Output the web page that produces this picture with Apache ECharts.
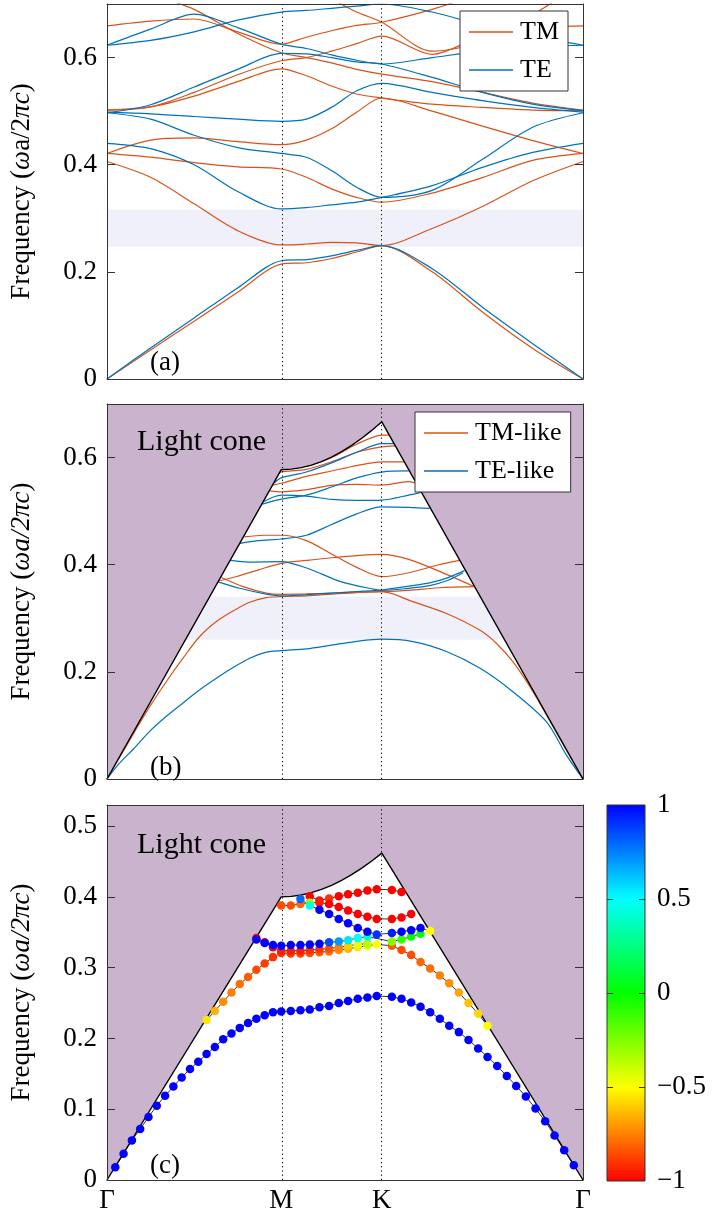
<!DOCTYPE html>
<html lang="en">
<head>
<meta charset="UTF-8">
<title>Band diagrams</title>
<script src="https://cdn.jsdelivr.net/npm/echarts@6/dist/echarts.min.js"></script>
<style>
  html, body { margin: 0; padding: 0; background: #fff; }
  #main { width: 716px; height: 1216px; }
</style>
</head>
<body>
<div id="main"></div>
<script>
// k path positions (units of 2pi/a) and their labels
var kTicks = [0, 0.5774, 0.9107, 1.5774];
var kLabels = ['Γ', 'M', 'K', 'Γ'];

// y tick labels per panel
var yTicksA = [0, 0.2, 0.4, 0.6];
var yTicksB = [0, 0.2, 0.4, 0.6];
var yTicksC = [0, 0.1, 0.2, 0.3, 0.4, 0.5];
var yMax = [0.7, 0.7, 0.53];

// band gaps (shaded)
var gapA = [0.247, 0.316];
var gapB = [0.260, 0.340];

// light cone (n = 1 for b, silica for c)
var coneK = [0, 0.5774, 0.6107, 0.6441, 0.6774, 0.7107, 0.7441, 0.7774, 0.8107, 0.8441, 0.8774, 0.9107, 1.5774];
var coneB = [0, 0.5774, 0.5784, 0.5813, 0.5860, 0.5926, 0.6010, 0.6111, 0.6228, 0.6360, 0.6507, 0.6667, 0];
var coneC = [0, 0.4001, 0.4008, 0.4028, 0.4061, 0.4107, 0.4165, 0.4235, 0.4316, 0.4408, 0.4509, 0.4620, 0];

// ---- panel (a): 2D crystal ----
var kA = [0, 0.1443, 0.2887, 0.433, 0.5774, 0.6607, 0.744, 0.8274, 0.9107, 1.0774, 1.2441, 1.4107, 1.5774];
var aTM = [
  [0, 0.054, 0.108, 0.162, 0.2145, 0.217, 0.225, 0.237, 0.249, 0.200, 0.125, 0.057, 0],
  [0.406, 0.3765, 0.327, 0.277, 0.2503, 0.252, 0.255, 0.254, 0.249, 0.281, 0.322, 0.370, 0.406],
  [0.421, 0.414, 0.404, 0.396, 0.392, 0.3765, 0.355, 0.339, 0.330, 0.347, 0.376, 0.408, 0.421],
  [0.421, 0.446, 0.450, 0.443, 0.4375, 0.446, 0.467, 0.498, 0.5245, 0.500, 0.472, 0.445, 0.421],
  [0.502, 0.508, 0.528, 0.555, 0.579, 0.566, 0.547, 0.532, 0.5245, 0.513, 0.507, 0.502, 0.501],
  [0.502, 0.508, 0.535, 0.568, 0.594, 0.600, 0.612, 0.626, 0.640, 0.606, 0.640, 0.655, 0.659],
  [0.659, 0.668, 0.672, 0.648, 0.625, 0.638, 0.650, 0.660, 0.666, 0.690, 0.720, 0.740, 0.750],
  [0.76, 0.72, 0.69, 0.645, 0.609, 0.600, 0.590, 0.578, 0.569, 0.555, 0.535, 0.515, 0.502],
  [null, null, null, null, 0.77, 0.74, 0.71, 0.685, 0.666, 0.612, 0.630, 0.680, 0.740]
];
var aTE = [
  [0, 0.058, 0.114, 0.170, 0.2207, 0.223, 0.230, 0.240, 0.249, 0.206, 0.134, 0.066, 0],
  [0.440, 0.430, 0.400, 0.350, 0.3175, 0.320, 0.325, 0.330, 0.339, 0.361, 0.395, 0.423, 0.440],
  [0.497, 0.485, 0.455, 0.432, 0.421, 0.414, 0.389, 0.358, 0.339, 0.352, 0.410, 0.470, 0.497],
  [0.498, 0.495, 0.490, 0.485, 0.481, 0.485, 0.507, 0.538, 0.552, 0.535, 0.5195, 0.507, 0.498],
  [0.497, 0.512, 0.545, 0.578, 0.608, 0.607, 0.600, 0.592, 0.588, 0.563, 0.535, 0.513, 0.501],
  [0.623, 0.653, 0.681, 0.656, 0.625, 0.617, 0.605, 0.595, 0.588, 0.600, 0.612, 0.620, 0.623],
  [0.623, 0.632, 0.648, 0.670, 0.685, 0.688, 0.692, 0.696, 0.700, 0.685, 0.660, 0.640, 0.623]
];

// ---- panel (b): slab, each band has its own k samples ----
var bTMk = [
  [0, 0.0862, 0.1415, 0.1968, 0.2519, 0.3072, 0.3625, 0.4175, 0.473, 0.528, 0.5774, 0.6607, 0.744, 0.8274, 0.9107, 1.014, 1.125, 1.235, 1.29, 1.345, 1.401, 1.456, 1.52, 1.5774],
  [0.379, 0.451, 0.528, 0.5774, 0.6607, 0.744, 0.8274, 0.9107, 1.0, 1.1, 1.218],
  [0.372, 0.43, 0.5, 0.5774, 0.6607, 0.744, 0.8274, 0.9107, 1.0, 1.1, 1.218],
  [0.455, 0.52, 0.5774, 0.6607, 0.744, 0.8274, 0.9107, 1.0, 1.1, 1.169],
  [0.54, 0.5774, 0.6607, 0.744, 0.8274, 0.9107, 1.0, 1.025],
  [0.57, 0.5774, 0.6607, 0.744, 0.8274, 0.9107, 0.955],
  [0.55, 0.5774, 0.6607, 0.744, 0.8274, 0.9107, 0.985],
  [0.6607, 0.744, 0.8274, 0.9107, 0.935]
];
var bTMf = [
  [0, 0.083, 0.135, 0.182, 0.2255, 0.266, 0.294, 0.3137, 0.33, 0.3385, 0.3404, 0.342, 0.345, 0.348, 0.3497, 0.331, 0.309, 0.278, 0.2535, 0.219, 0.1726, 0.12, 0.056, 0],
  [0.376, 0.359, 0.347, 0.3448, 0.3455, 0.347, 0.349, 0.3497, 0.352, 0.357, 0.359],
  [0.37, 0.378, 0.39, 0.4026, 0.408, 0.413, 0.417, 0.4194, 0.41, 0.388, 0.359],
  [0.452, 0.455, 0.455, 0.445, 0.42, 0.395, 0.3777, 0.385, 0.40, 0.408],
  [0.538, 0.536, 0.54, 0.548, 0.55, 0.5486, 0.555, 0.552],
  [0.57, 0.5734, 0.578, 0.592, 0.61, 0.620, 0.622],
  [0.549, 0.552, 0.565, 0.575, 0.585, 0.592, 0.592],
  [0.583, 0.60, 0.625, 0.6418, 0.642]
];
var bTEk = [
  [0, 0.0421, 0.0862, 0.1415, 0.1968, 0.2519, 0.3072, 0.3625, 0.4175, 0.473, 0.528, 0.5774, 0.6607, 0.744, 0.8274, 0.9107, 1.014, 1.125, 1.235, 1.345, 1.456, 1.522, 1.5774],
  [0.368, 0.44, 0.528, 0.5774, 0.6607, 0.744, 0.8274, 0.9107, 1.0, 1.069, 1.13, 1.185],
  [0.41, 0.47, 0.5774, 0.666, 0.777, 0.887, 0.9107, 1.0, 1.069, 1.13, 1.18],
  [0.44, 0.5, 0.5774, 0.6607, 0.744, 0.8274, 0.9107, 1.0, 1.069],
  [0.52, 0.5774, 0.6607, 0.744, 0.8274, 0.9107, 1.0, 1.04],
  [0.515, 0.5774, 0.6607, 0.744, 0.8274, 0.9107, 1.0],
  [0.555, 0.5774, 0.6607, 0.744, 0.8274, 0.9107, 0.95]
];
var bTEf = [
  [0, 0.03, 0.055, 0.089, 0.117, 0.142, 0.1665, 0.188, 0.208, 0.2255, 0.2367, 0.2397, 0.243, 0.25, 0.257, 0.261, 0.2565, 0.238, 0.207, 0.163, 0.107, 0.045, 0],
  [0.368, 0.356, 0.345, 0.3417, 0.344, 0.347, 0.35, 0.3528, 0.36, 0.366, 0.376, 0.389],
  [0.408, 0.405, 0.4057, 0.393, 0.368, 0.354, 0.352, 0.356, 0.361, 0.371, 0.385],
  [0.44, 0.445, 0.448, 0.455, 0.475, 0.495, 0.508, 0.507, 0.505],
  [0.518, 0.53, 0.528, 0.522, 0.52, 0.5206, 0.53, 0.535],
  [0.513, 0.5225, 0.53, 0.545, 0.562, 0.573, 0.575],
  [0.553, 0.562, 0.573, 0.59, 0.61, 0.626, 0.626]
];

// ---- panel (c): sampled modes, frequency + polarisation ----
var kC = [0.0275, 0.055, 0.0825, 0.11, 0.1375, 0.165, 0.1925, 0.22, 0.2475, 0.275, 0.3025, 0.33, 0.3575, 0.385, 0.4125, 0.44, 0.4675, 0.495, 0.5225, 0.55, 0.5774,
  0.609, 0.641, 0.672, 0.704, 0.736, 0.768, 0.799, 0.831, 0.863, 0.894,
  0.944, 0.976, 1.008, 1.039, 1.071, 1.103, 1.134, 1.166, 1.198, 1.23, 1.261, 1.293, 1.325, 1.356, 1.388, 1.42, 1.452, 1.483, 1.515, 1.547];
var cStart = [0, 11, 17, 17, 23, 20, 22];
var c1f = [0.018, 0.037, 0.056, 0.072, 0.089, 0.105, 0.119, 0.132, 0.145, 0.157, 0.167, 0.178, 0.188, 0.199, 0.207, 0.215, 0.222, 0.228, 0.233, 0.237, 0.238,
  0.239, 0.240, 0.241, 0.244, 0.246, 0.250, 0.253, 0.256, 0.258, 0.260,
  0.259, 0.256, 0.251, 0.245, 0.237, 0.228, 0.218, 0.209, 0.198, 0.186, 0.174, 0.161, 0.147, 0.133, 0.118, 0.101, 0.083, 0.063, 0.042, 0.021];
var c1p = [1, 1, 1, 1, 1, 1, 1, 1, 1, 1, 1, 1, 1, 1, 1, 1, 1, 1, 1, 1, 1,
  1, 1, 1, 1, 1, 1, 1, 1, 1, 1,
  1, 1, 1, 1, 1, 1, 1, 1, 1, 1, 1, 1, 1, 1, 1, 1, 1, 1, 1, 1];
var c2f = [0.226, 0.239, 0.252, 0.265, 0.277, 0.287, 0.297, 0.306, 0.315, 0.321,
  0.320, 0.320, 0.321, 0.322, 0.323, 0.325, 0.327, 0.329, 0.331, 0.333,
  0.331, 0.325, 0.318, 0.308, 0.299, 0.289, 0.278, 0.265, 0.250, 0.235, 0.218];
var c2p = [-0.55, -0.65, -0.72, -0.75, -0.78, -0.82, -0.85, -0.88, -0.9, -0.9,
  -0.9, -0.88, -0.85, -0.82, -0.78, -0.72, -0.65, -0.55, -0.45, -0.5,
  -0.82, -0.85, -0.85, -0.8, -0.78, -0.75, -0.72, -0.68, -0.62, -0.58, -0.5];
var c3f = [0.342, 0.336, 0.329, 0.324, 0.324, 0.324, 0.325, 0.326, 0.327, 0.329, 0.331, 0.333, 0.334];
var c3p = [-1, -1, -1, -0.95, -0.95, -0.95, -0.92, -0.9, -0.85, -0.75, -0.6, -0.45, -0.35];
var c4f = [0.340, 0.335, 0.332, 0.331, 0.332, 0.332, 0.333, 0.334, 0.336, 0.337, 0.339, 0.342, 0.344, null, 0.337, 0.340, 0.344, 0.348];
var c4p = [1, 1, 1, 1, 1, 1, 1, 1, 0.85, 0.7, 0.55, 0.48, 0.4, null, -0.25, -0.1, 0, 0.03];
var c5f = [0.401, 0.395, 0.398, 0.401, 0.404, 0.406, 0.409, 0.411, 0.410, 0.407];
var c5p = [-1, -0.97, -0.9, -1, -1, -1, -1, -1, -1, -1];
var c6f = [0.388, 0.388, 0.390, 0.392, 0.392, 0.390, 0.386, 0.381, 0.376, 0.372, 0.369, 0.369, 0.371, 0.376];
var c6p = [-0.85, -0.85, -0.8, -0.3, -0.95, -1, -1, -1, -1, -1, -1, -1, -1, -1];
var c7f = [0.397, 0.388, 0.382, 0.376, 0.369, 0.363, 0.356, 0.351, 0.347, 0.349, 0.351, 0.353, 0.356, 0.352];
var c7p = [0.8, 0.45, 1, 1, 1, 1, 1, 1, 0.9, 0.95, 1, 1, 1, -0.5];

// colour bar
var cbRange = [-1, 1];
var cbTicks = [-1, -0.5, 0, 0.5, 1];
var cbColors = ['#ff0000', '#ffff00', '#00ff00', '#00ffff', '#0000ff']; // from -1 to 1

var FONT = '"Liberation Serif", "DejaVu Serif", serif';
var TM = '#d95319', TE = '#0072bd';
var CONE = '#cab3cc';
var FRAME = '#333';

var grids = [
  {left: 107, top: 4, width: 476, height: 375},
  {left: 107, top: 404, width: 476, height: 375},
  {left: 107, top: 805, width: 476, height: 375},
  {left: 607, top: 805, width: 38, height: 376}
];

function pairs(ks, fs) {
  var d = [];
  for (var j = 0; j < ks.length; j++) d.push([ks[j], fs[j]]);
  return d;
}

function band(name, ks, fs, color, g, width, smooth, z) {
  return {
    type: 'line', name: name, xAxisIndex: g, yAxisIndex: 2 * g,
    data: pairs(ks, fs), symbol: 'none', smooth: smooth, connectNulls: true,
    lineStyle: {color: color, width: width}, itemStyle: {color: color},
    z: z, silent: true, animation: false
  };
}

var series = [];

// guides: band-gap shading and dotted M, K lines
function guides(g, gap) {
  if (gap) {
    series.push({
      type: 'line', xAxisIndex: g, yAxisIndex: 2 * g, data: [], symbol: 'none', z: 0, silent: true,
      markArea: {silent: true, itemStyle: {color: '#f0f0fb'}, data: [[{yAxis: gap[0]}, {yAxis: gap[1]}]]}
    });
  }
  series.push({
    type: 'line', xAxisIndex: g, yAxisIndex: 2 * g, data: [], symbol: 'none', z: 1, silent: true,
    markLine: {silent: true, symbol: 'none', label: {show: false},
      lineStyle: {color: '#000', width: 1, type: [1.2, 3]},
      data: [{xAxis: kTicks[1]}, {xAxis: kTicks[2]}]}
  });
}

guides(0, gapA);
guides(1, gapB);
guides(2, null);

// panel (a)
aTM.forEach(function (f) { series.push(band('TM', kA, f, TM, 0, 1.2, 0.3, 2)); });
aTE.forEach(function (f) { series.push(band('TE', kA, f, TE, 0, 1.2, 0.3, 2)); });

// panel (b)
bTMk.forEach(function (k, i) { series.push(band('TM-like', k, bTMf[i], TM, 1, 1.2, 0.3, 2)); });
bTEk.forEach(function (k, i) { series.push(band('TE-like', k, bTEf[i], TE, 1, 1.2, 0.3, 2)); });

// light cones
[[1, coneB], [2, coneC]].forEach(function (c) {
  series.push({
    type: 'line', xAxisIndex: c[0], yAxisIndex: 2 * c[0], data: pairs(coneK, c[1]),
    symbol: 'none', smooth: false, lineStyle: {color: '#000', width: 1.4},
    areaStyle: {origin: 'end', color: CONE, opacity: 1}, z: 3, silent: true
  });
});

// panel (c)
var cF = [c1f, c2f, c3f, c4f, c5f, c6f, c7f];
var cP = [c1p, c2p, c3p, c4p, c5p, c6p, c7p];
var dots = [];
cF.forEach(function (f, b) {
  var ks = kC.slice(cStart[b], cStart[b] + f.length);
  series.push(band('c' + b, ks, f, '#000', 2, 0.8, false, 4));
  for (var j = 0; j < f.length; j++) {
    if (f[j] !== null) dots.push([ks[j], f[j], cP[b][j]]);
  }
});
var dotIndex = series.length;
series.push({
  type: 'scatter', xAxisIndex: 2, yAxisIndex: 4, data: dots, symbol: 'circle',
  symbolSize: 8.5, z: 5, silent: true, itemStyle: {opacity: 1}
});

// colour bar
var barStops = cbColors.map(function (c, i) { return {offset: 1 - i / (cbColors.length - 1), color: c}; }).reverse();
series.push({
  type: 'custom', xAxisIndex: 3, yAxisIndex: 6, data: [[0, cbRange[0], cbRange[1]]], silent: true, z: 2,
  renderItem: function (params, api) {
    var p0 = api.coord([0, api.value(2)]);
    var p1 = api.coord([1, api.value(1)]);
    return {
      type: 'rect',
      shape: {x: p0[0], y: p0[1], width: p1[0] - p0[0], height: p1[1] - p0[1]},
      style: {fill: new echarts.graphic.LinearGradient(0, 0, 0, 1, barStops), stroke: FRAME, lineWidth: 1}
    };
  }
});

var labelStyle = {color: '#000', fontFamily: FONT, fontSize: 27};
var yName = '{t|Frequency (}{i|ωa/2πc}{t|)}';
var yNameA = '{t|Frequency (}{i|ω}{t|a/2}{i|πc}{t|)}';

function yAxes(g, max, ticks, name) {
  var tick = {show: true, inside: true, length: 8, customValues: ticks, lineStyle: {color: FRAME, width: 1}};
  var line = {show: true, onZero: false, lineStyle: {color: FRAME, width: 1}};
  return [
    {gridIndex: g, type: 'value', position: 'left', min: 0, max: max, z: 10,
      axisLine: line, axisTick: tick, splitLine: {show: false},
      axisLabel: Object.assign({customValues: ticks, margin: 10}, labelStyle),
      name: name, nameLocation: 'middle', nameRotate: 90, nameGap: 72,
      nameTextStyle: {rich: {t: {fontFamily: FONT, fontSize: 27, color: '#000'},
        i: {fontFamily: FONT, fontSize: 27, color: '#000', fontStyle: 'italic'}}}},
    {gridIndex: g, type: 'value', position: 'right', min: 0, max: max, z: 10,
      axisLine: line, axisTick: tick, splitLine: {show: false}, axisLabel: {show: false}}
  ];
}

var yAxis = [].concat(
  yAxes(0, yMax[0], yTicksA, yNameA),
  yAxes(1, yMax[1], yTicksB, yName),
  yAxes(2, yMax[2], yTicksC, yName),
  [
    {gridIndex: 3, type: 'value', position: 'left', min: cbRange[0], max: cbRange[1], z: 10,
      axisLine: {show: false}, splitLine: {show: false}, axisLabel: {show: false},
      axisTick: {show: true, inside: true, length: 6, customValues: cbTicks.slice(1, -1), lineStyle: {color: FRAME}}},
    {gridIndex: 3, type: 'value', position: 'right', min: cbRange[0], max: cbRange[1], z: 10,
      axisLine: {show: false}, splitLine: {show: false},
      axisTick: {show: true, inside: true, length: 6, customValues: cbTicks.slice(1, -1), lineStyle: {color: FRAME}},
      axisLabel: Object.assign({customValues: cbTicks, margin: 12,
        formatter: function (v) { return v < 0 ? '\u2212' + Math.abs(v) : String(v); }}, labelStyle)}
  ]
);

function kName(v) {
  var best = 0;
  for (var i = 1; i < kTicks.length; i++) {
    if (Math.abs(kTicks[i] - v) < Math.abs(kTicks[best] - v)) best = i;
  }
  return kLabels[best];
}

function xAxes() {
  var out = [];
  for (var g = 0; g < 3; g++) {
    out.push({gridIndex: g, type: 'value', position: 'bottom', min: kTicks[0], max: kTicks[3], z: 10,
      axisLine: {show: true, onZero: false, lineStyle: {color: FRAME, width: 1}},
      axisTick: {show: false}, splitLine: {show: false},
      axisLabel: g === 2 ? Object.assign({customValues: kTicks, margin: 7, formatter: kName}, labelStyle) : {show: false}});
  }
  out.push({gridIndex: 3, type: 'value', min: 0, max: 1, show: false});
  for (g = 0; g < 3; g++) {
    out.push({gridIndex: g, type: 'value', position: 'top', min: kTicks[0], max: kTicks[3], z: 10,
      axisLine: {show: true, onZero: false, lineStyle: {color: FRAME, width: 1}},
      axisTick: {show: false}, splitLine: {show: false}, axisLabel: {show: false}});
  }
  return out;
}

var legendBase = {
  orient: 'vertical', selectedMode: false, z: 20, icon: 'rect',
  backgroundColor: '#fff', borderColor: FRAME, borderWidth: 1, borderRadius: 0,
  padding: [8, 9, 8, 9], itemGap: 12, itemWidth: 44, itemHeight: 1.3,
  textStyle: {fontFamily: FONT, fontSize: 26, color: '#000', padding: [0, 0, 0, 2]}
};

var txt = function (s, left, top, size) {
  return {type: 'text', left: left, top: top, z: 30,
    style: {text: s, font: size + 'px ' + FONT, fill: '#000'}};
};

var chart = echarts.init(document.getElementById('main'), null, {renderer: 'canvas'});
chart.setOption({
  animation: false,
  backgroundColor: '#fff',
  grid: grids,
  xAxis: xAxes(),
  yAxis: yAxis,
  legend: [
    Object.assign({left: 460, top: 11, data: ['TM', 'TE']}, legendBase),
    Object.assign({left: 415, top: 412, data: ['TM-like', 'TE-like']}, legendBase)
  ],
  visualMap: {
    type: 'continuous', show: false, min: cbRange[0], max: cbRange[1], dimension: 2,
    seriesIndex: dotIndex, inRange: {color: cbColors}
  },
  graphic: [
    txt('(a)', 150, 349, 27),
    txt('(b)', 150, 754, 27),
    txt('(c)', 150, 1152, 27),
    txt('Light cone', 137, 427, 30),
    txt('Light cone', 137, 830, 30)
  ],
  series: series
});
</script>
</body>
</html>
